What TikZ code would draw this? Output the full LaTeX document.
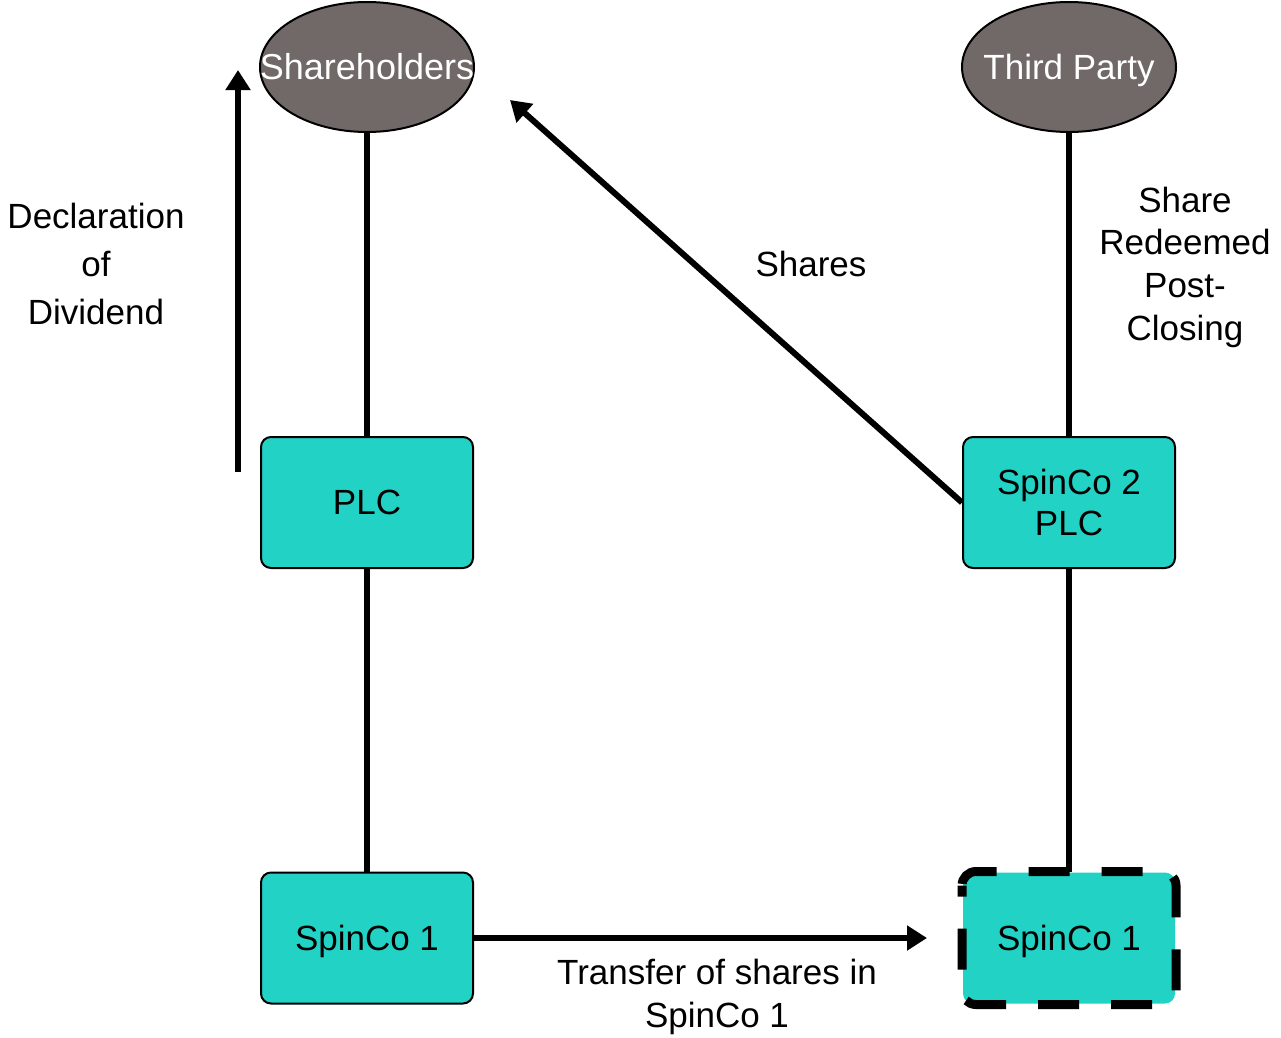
\documentclass[tikz,border=0pt]{standalone}
\usepackage{fontspec}
\setmainfont{Liberation Sans}
\usetikzlibrary{shapes.geometric,arrows.meta}
\definecolor{ownerfill}{HTML}{716968}
\definecolor{entityfill}{HTML}{22D3C5}
\begin{document}
\begin{tikzpicture}[x=1pt,y=-1pt,
  txt/.style={font=\fontsize{35}{43}\selectfont, align=center, inner sep=0pt},
  owner/.style={ellipse, draw=black, line width=2pt, fill=ownerfill,
    minimum width=214pt, minimum height=130pt, inner sep=0pt},
  entity/.style={rectangle, rounded corners=10pt, draw=black, line width=2pt,
    fill=entityfill, minimum width=212pt, minimum height=131pt, inner sep=0pt,
    font=\fontsize{35}{41}\selectfont, align=center, text depth=0pt},
  link/.style={line width=6pt},
  flow/.style={line width=6pt, -{Triangle[length=20pt,width=24pt]}}]
\useasboundingbox (0,0) rectangle (1281,1037);

% owners
\node[owner, label={[text=white, font=\fontsize{36}{42}\selectfont]center:Shareholders}] (sh) at (367,67) {};
\node[owner, label={[text=white, text depth=0pt, font=\fontsize{35}{41}\selectfont]center:Third Party}] (tp) at (1069,67) {};

% entities
\node[entity] (plc) at (367,502.5) {PLC};
\node[entity] (sc2) at (1069,502.5) {SpinCo 2\\PLC};
\node[entity] (sc1a) at (367,938) {SpinCo 1};
\node[entity, draw=none] (sc1b) at (1069,938) {SpinCo 1};
\draw[line width=9pt, rounded corners=14pt, dash pattern=on 41pt off 32pt, dash phase=30pt]
  (sc1b.north west) rectangle (sc1b.south east);

% ownership links
\draw[link] (sh) -- (plc);
\draw[link] (plc) -- (sc1a);
\draw[link] (tp) -- (sc2);
\draw[link] (sc2) -- (sc1b);

% flows
\coordinate (divfoot) at (238,472);
\coordinate (divtip) at (238,70);
\draw[flow] (divfoot) -- (divtip);
\coordinate (sharetip) at (510,100);
\draw[flow] (sc2.west) -- (sharetip);
\coordinate (xfertip) at (927,938);
\draw[flow] (sc1a.east) -- (xfertip);

% labels
\node[txt, font=\fontsize{35}{48}\selectfont] (ldiv) at (96,264) {Declaration\\of\\Dividend};
\node[txt] (lshares) at (811,264) {Shares};
\node[txt, font=\fontsize{35}{42.7}\selectfont] (lred) at (1185,267) {Share\\Redeemed\\Post-\\Closing};
\node[txt] (lxfer) at (717,996.5) {Transfer of shares in\\SpinCo 1};
\end{tikzpicture}
\end{document}
